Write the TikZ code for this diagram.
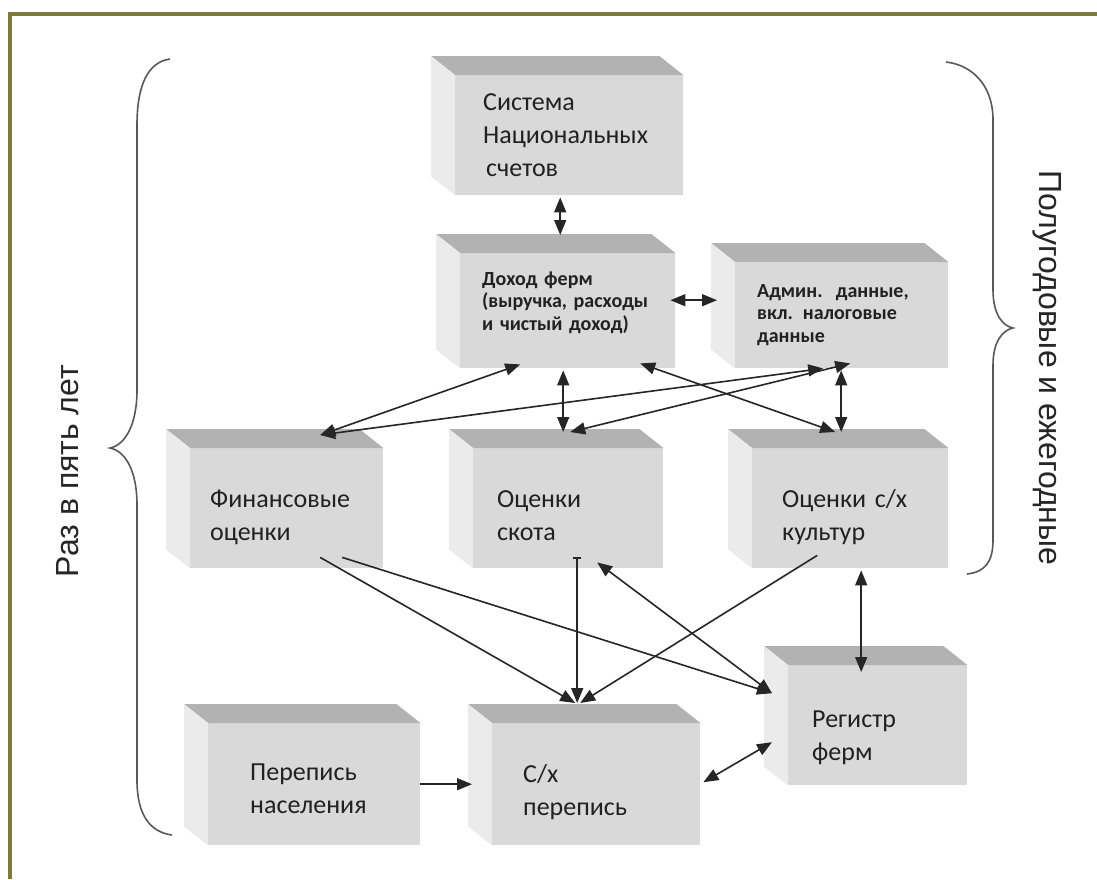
\documentclass[tikz,border=0pt]{standalone}
\usepackage{fontspec}
\setmainfont{Carlito}
\newfontfamily\skobfont{Liberation Sans}
\usetikzlibrary{arrows.meta}

\definecolor{olivka}{RGB}{128,122,58}
\definecolor{peredn}{HTML}{D9D9D9}
\definecolor{verhn}{HTML}{B2B2B2}
\definecolor{bokov}{HTML}{EBEBEB}
\definecolor{skob}{HTML}{585858}

% top and left faces of a box
\newcommand{\kub}[1]{%
  \fill[verhn] (#1.north west) -- ++(-24,-19) -- ([shift={(-24,-19)}]#1.north east) -- (#1.north east) -- cycle;
  \fill[bokov] (#1.north west) -- ++(-24,-19) -- ([shift={(-24,-19)}]#1.south west) -- (#1.south west) -- cycle;}

\begin{document}
\begin{tikzpicture}[x=1pt,y=-1pt, >={Triangle[length=15pt,width=12pt]},
  kub/.style={fill=peredn,anchor=north west,align=left,inner ysep=0pt,text=black!87,font=\fontsize{26}{33}\selectfont},
  kubb/.style={kub,font=\fontsize{20}{22.5}\selectfont\bfseries},
  arr/.style={->,line width=1.6pt,black!85},
  darr/.style={<->,line width=1.6pt,black!85},
  skobka/.style={draw=skob,line width=1.6pt}]
\useasboundingbox (0,0) rectangle (1097,879);
\fill[white] (0,0) rectangle (1097,879);
\draw[olivka,line width=4.5pt] (10,879) -- (10,14) -- (1097,14);

\node[kub,text height=35,text depth=85,text width=172,inner xsep=28] (sns) at (455,75) {Система\\Национальных\\\hspace{3pt}счетов};
\node[kubb,text height=32,text depth=83,text width=171,inner xsep=22] (dohod) at (460,253) {Доход ферм\\(выручка, расходы\\и чистый доход)};
\node[kubb,text height=35,text depth=71,text width=169,inner xsep=22] (admin) at (735,262) {Админ.\ \ данные,\\вкл. налоговые\\данные};
\node[kub,text height=59,text depth=61,text width=153,inner xsep=20] (fin) at (190,448) {Финансовые\\оценки};
\node[kub,text height=59,text depth=61,text width=142,inner xsep=24] (skot) at (473,448) {Оценки\\скота};
\node[kub,text height=59,text depth=61,text width=136,inner xsep=30] (kult) at (752,448) {Оценки с/х\\культур};
\node[kub,text height=57,text depth=65,text width=128,inner xsep=42] (nasel) at (208,723) {Перепись\\населения};
\node[kub,text height=59,text depth=63,text width=146,inner xsep=31] (perepis) at (492,723) {С/х\\перепись};
\node[kub,text height=62,text depth=58,text width=131,inner xsep=24] (registr) at (788,665) {Регистр\\ферм};
\kub{sns} \kub{dohod} \kub{admin} \kub{fin} \kub{skot} \kub{kult} \kub{nasel} \kub{perepis} \kub{registr}

\draw[darr] ([xshift=-9pt,yshift=-2pt]sns.south) -- ([xshift=-7.5pt,yshift=18pt]dohod.north);
\draw[darr] ([xshift=-5pt,yshift=10.5pt]dohod.east) -- ([xshift=-18pt,yshift=15pt]admin.west);
\draw[darr] ([xshift=-47.5pt,yshift=4pt]dohod.south) -- ([xshift=33.5pt,yshift=13pt]fin.north);
\draw[darr] ([xshift=-4.5pt,yshift=-2pt]dohod.south) -- ([xshift=-5pt,yshift=16pt]skot.north);
\draw[darr] ([xshift=-18.5pt]admin.south) -- ([xshift=33.5pt,yshift=13pt]fin.north);
\draw[darr] ([xshift=8.5pt,yshift=5pt]admin.south) -- ([xshift=2pt,yshift=16pt]skot.north);
\draw[darr] ([xshift=72.5pt,yshift=5pt]dohod.south) -- ([xshift=-15pt,yshift=16pt]kult.north);
\draw[darr] ([xshift=-0.5pt,yshift=-2pt]admin.south) -- ([xshift=-9pt,yshift=16pt]kult.north);
\draw[arr] ([xshift=33.5pt,yshift=11pt]fin.south) -- ([xshift=-21pt,yshift=20pt]perepis.north);
\draw[arr] ([xshift=55.5pt,yshift=11pt]fin.south) -- ([xshift=-16pt,yshift=32pt]registr.west);
\draw[arr,{Bar[width=8pt]}->] ([xshift=9pt,yshift=11pt]skot.south) -- ([xshift=-19pt,yshift=20pt]perepis.north);
\draw[darr] ([xshift=29pt,yshift=6pt]skot.south) -- ([xshift=-16pt,yshift=32pt]registr.west);
\draw[arr] ([xshift=-33pt,yshift=13pt]kult.south) -- ([xshift=-16pt,yshift=20pt]perepis.north);
\draw[darr] ([xshift=11pt,yshift=-2pt]kult.south) -- ([xshift=-16.5pt,yshift=-7pt]registr.north);
\draw[darr] ([xshift=-16pt,yshift=-17pt]registr.west) -- ([xshift=3pt,yshift=2pt]perepis.east);
\draw[arr] (nasel.east) -- ([xshift=-20pt]perepis.west);

% braces
\draw[skobka] (170,59) .. controls (148,62) and (137,85) .. (137,125) -- (137,390)
  .. controls (137,425) and (125,445) .. (110,448) .. controls (125,451) and (137,470) .. (137,505)
  -- (137,780) .. controls (137,815) and (150,832) .. (172,835);
\draw[skobka] (946,62) .. controls (972,65) and (993,85) .. (993,120) -- (993,290)
  .. controls (993,315) and (1003,326) .. (1013,328) .. controls (1003,330) and (993,341) .. (993,365)
  -- (993,540) .. controls (993,562) and (985,572) .. (967,574);
\node[rotate=90,font=\skobfont\fontsize{32}{32}\selectfont,text=black!85] (raz) at (68,471) {Раз в пять лет};
\node[rotate=-90,font=\skobfont\fontsize{32}{32}\selectfont,text=black!85] (polu) at (1047,368) {Полугодовые и ежегодные};
\end{tikzpicture}
\end{document}
